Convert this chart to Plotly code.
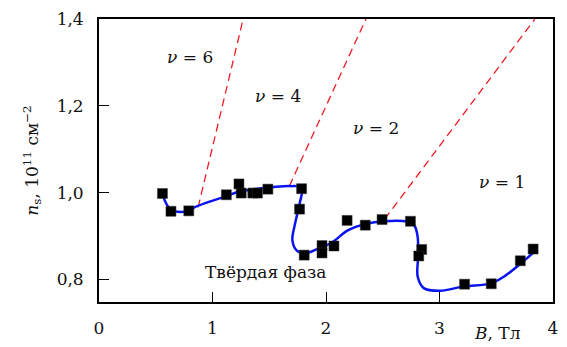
import plotly.graph_objects as go

# Measured points: magnetic field B (T) and density n_s (10^11 cm^-2)
b_meas = [0.559, 0.634, 0.791, 1.122, 1.233, 1.253, 1.355, 1.396, 1.488,
          1.785, 1.767, 1.808, 1.965, 1.965, 2.070, 2.186, 2.346, 2.494,
          2.744, 2.843, 2.817, 3.221, 3.456, 3.712, 3.825]
n_meas = [0.998, 0.957, 0.958, 0.995, 1.020, 0.999, 0.999, 0.999, 1.008,
          1.009, 0.962, 0.856, 0.878, 0.861, 0.877, 0.936, 0.925, 0.938,
          0.934, 0.869, 0.854, 0.789, 0.790, 0.843, 0.870]

# Guide-to-the-eye phase boundary
b_curve = [0.559, 0.637, 0.797, 0.840, 1.122, 1.233, 1.466, 1.684, 1.785,
           1.767, 1.727, 1.704, 1.741, 1.814, 1.930, 2.046, 2.192, 2.351,
           2.512, 2.715, 2.779, 2.808, 2.811, 2.808, 2.861, 3.005, 3.218,
           3.453, 3.587, 3.718, 3.820]
n_curve = [0.996, 0.960, 0.958, 0.966, 0.992, 1.002, 1.011, 1.015, 1.011,
           0.974, 0.928, 0.890, 0.867, 0.860, 0.871, 0.884, 0.913, 0.928,
           0.934, 0.933, 0.924, 0.897, 0.852, 0.806, 0.780, 0.774, 0.784,
           0.791, 0.810, 0.837, 0.860]

# Filling-factor boundaries (start, end)
nu6_b = [0.873, 1.270]
nu6_n = [0.966, 1.400]
nu4_b = [1.677, 2.352]
nu4_n = [1.015, 1.400]
nu2_b = [2.517, 3.840]
nu2_n = [0.939, 1.400]

# Region labels
region_text = ["<i>ν</i> = 6", "<i>ν</i> = 4", "<i>ν</i> = 2", "<i>ν</i> = 1", "Твёрдая фаза"]
region_b = [0.80, 1.58, 2.44, 3.55, 1.47]
region_n = [1.312, 1.222, 1.149, 1.025, 0.818]

x_ticks = [0, 1, 2, 3, 4]
y_ticks = [0.8, 1.0, 1.2, 1.4]

FONT = "DejaVu Serif"

fig = go.Figure()

for bx, ny in [(nu6_b, nu6_n), (nu4_b, nu4_n), (nu2_b, nu2_n)]:
    fig.add_trace(go.Scatter(
        x=bx, y=ny, mode="lines",
        line=dict(color="#ee1c24", width=1.3, dash="8px,5px"),
        showlegend=False, hoverinfo="skip"))

fig.add_trace(go.Scatter(
    x=b_curve, y=n_curve, mode="lines",
    line=dict(color="#0a14f0", width=2.5, shape="spline", smoothing=1.0),
    showlegend=False))

fig.add_trace(go.Scatter(
    x=b_meas, y=n_meas, mode="markers",
    marker=dict(symbol="square", size=10, color="black",
                line=dict(color="#333333", width=0.5)),
    showlegend=False))

for t, bx, ny in zip(region_text, region_b, region_n):
    fig.add_annotation(x=bx, y=ny, text=t, showarrow=False,
                       font=dict(family=FONT, size=17, color="#111111"))

fig.add_annotation(xref="paper", yref="paper", x=0.935, y=-0.11,
                   xanchor="right", yanchor="middle",
                   text="<i>B</i>, Тл", showarrow=False,
                   font=dict(family=FONT, size=17, color="#111111"))

fig.update_layout(
    width=567, height=347,
    margin=dict(l=99, r=9, t=16, b=45),
    paper_bgcolor="white", plot_bgcolor="white",
    separators=", ",
    font=dict(family=FONT, size=17, color="#111111"),
    xaxis=dict(range=[0, 4], tickvals=x_ticks, ticktext=[str(v) for v in x_ticks],
               ticks="inside", ticklen=10, tickwidth=1.3, tickcolor="black",
               showline=True, linecolor="black", linewidth=1.8, mirror=True,
               showgrid=False, zeroline=False, ticklabelstandoff=10),
    yaxis=dict(range=[0.748, 1.4], tickvals=y_ticks, tickformat=".1f",
               ticks="inside", ticklen=10, tickwidth=1.3, tickcolor="black",
               showline=True, linecolor="black", linewidth=1.8, mirror=True,
               showgrid=False, zeroline=False, ticklabelstandoff=10,
               title=dict(text="<i>n</i><sub>s</sub>, 10<sup>11</sup> см<sup>−2</sup>",
                          font=dict(family=FONT, size=17), standoff=14)),
)

fig.write_html("out.html")
